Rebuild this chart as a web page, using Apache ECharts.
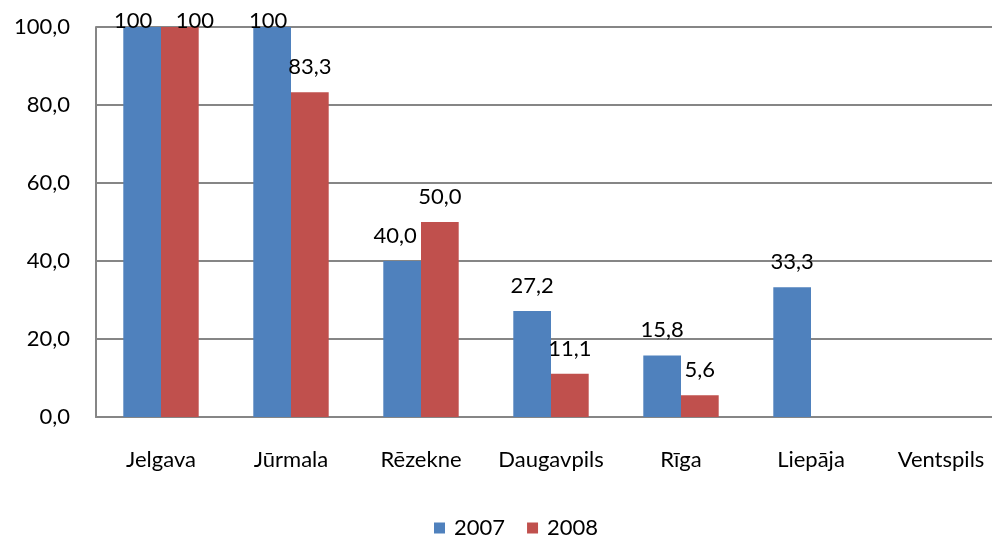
<!DOCTYPE html>
<html>
<head>
<meta charset="utf-8">
<script src="https://cdn.jsdelivr.net/npm/echarts@6/dist/echarts.min.js"></script>
<style>
  html, body { margin: 0; padding: 0; background: #fff; overflow: hidden; }
  /* plot area runs past the right edge, like the original picture */
  #chart { width: 1006px; height: 535px; }
</style>
</head>
<body>
<div id="chart"></div>
<script>
const cities = ['Jelgava', 'Jūrmala', 'Rēzekne', 'Daugavpils', 'Rīga', 'Liepāja', 'Ventspils']
const values2007 = [100, 100, 40.0, 27.2, 15.8, 33.3, null]
const values2008 = [100, 83.3, 50.0, 11.1, 5.6, null, null]
const yTicks = [0, 20, 40, 60, 80, 100]

const font = 'Lato, "Open Sans", sans-serif'
const fs = 22

// label nudges, Excel moved some labels to avoid overlaps
const nudge2007 = { 0: [-9, 19], 1: [-4, 19], 2: [-7, 0] }
const nudge2008 = { 0: [15, 19] }

// Excel prints whole 100 without decimals, others with comma decimal
function fmt(v) {
  if (v === 100) return '100'
  return v.toFixed(1).replace('.', ',')
}

function toData(arr, nudge) {
  return arr.map((v, i) => {
    if (v == null) return null
    const item = { value: v }
    if (nudge[i]) item.label = { offset: nudge[i] }
    return item
  })
}

const chart = echarts.init(document.getElementById('chart'))
chart.setOption({
  animation: false,
  textStyle: { fontFamily: font },
  grid: { left: 96, top: 27, right: 0, bottom: 118, containLabel: false },
  legend: {
    top: 512,
    left: 429,
    itemWidth: 11,
    itemHeight: 11,
    itemGap: 22,
    icon: 'rect',
    textStyle: { fontSize: fs, color: '#000', fontFamily: font, padding: [0, 0, 0, 4] },
    data: ['2007', '2008']
  },
  xAxis: {
    type: 'category',
    data: cities,
    axisLine: { lineStyle: { color: '#868686', width: 2 } },
    axisTick: { show: false },
    axisLabel: { color: '#000', fontSize: fs, margin: 32, fontFamily: font, interval: 0 }
  },
  yAxis: {
    type: 'value',
    min: yTicks[0],
    max: yTicks[yTicks.length - 1],
    interval: 20,
    axisLine: { show: true, lineStyle: { color: '#868686', width: 2 } },
    axisTick: { show: false },
    splitLine: { lineStyle: { color: '#868686', width: 2 } },
    axisLabel: {
      color: '#000', fontSize: fs, margin: 26, fontFamily: font,
      formatter: v => v.toFixed(1).replace('.', ',')
    }
  },
  series: [
    {
      name: '2007',
      type: 'bar',
      data: toData(values2007, nudge2007),
      itemStyle: { color: '#4F81BD' },
      barGap: '0%',
      barCategoryGap: '42%',
      label: {
        show: true, position: 'top', distance: 14,
        color: '#000', fontSize: fs, fontFamily: font,
        formatter: p => fmt(p.value)
      }
    },
    {
      name: '2008',
      type: 'bar',
      data: toData(values2008, nudge2008),
      itemStyle: { color: '#C0504D' },
      label: {
        show: true, position: 'top', distance: 14,
        color: '#000', fontSize: fs, fontFamily: font,
        formatter: p => fmt(p.value)
      }
    }
  ]
})
</script>
</body>
</html>
